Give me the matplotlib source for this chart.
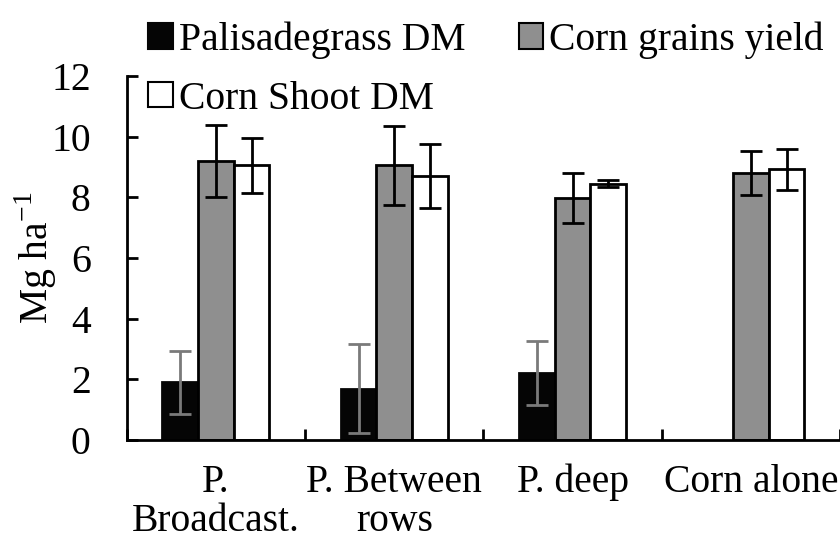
import matplotlib
matplotlib.use("Agg")
import matplotlib.pyplot as plt
import numpy as np

plt.rcParams['font.family'] = ['Liberation Serif', 'DejaVu Serif']
plt.rcParams['mathtext.fontset'] = 'custom'
plt.rcParams['mathtext.rm'] = 'Liberation Serif'

# data
categories = ["P.\nBroadcast.", "P. Between\nrows", "P. deep", "Corn alone"]
palisade = [1.9, 1.7, 2.2, 0.0]
palisade_err = [1.03, 1.47, 1.05, 0.0]
grains = [9.2, 9.05, 7.98, 8.8]
grains_err = [1.19, 1.3, 0.82, 0.74]
shoot = [9.05, 8.7, 8.45, 8.92]
shoot_err = [0.9, 1.04, 0.12, 0.68]

fs = 28.5

fig = plt.figure(figsize=(8.4, 5.42), dpi=100)
ax = fig.add_axes([0.151, 0.188, 0.849, 0.672])

x = np.arange(len(categories))
w = 0.2

# palisadegrass bars, skip the zero one (no bar drawn for corn alone)
pal_idx = [i for i in range(len(palisade)) if palisade[i] > 0]
b1 = ax.bar(x[pal_idx] - w, [palisade[i] for i in pal_idx], w, color='#050505',
            edgecolor='#050505', linewidth=2)
ax.errorbar(x[pal_idx] - w, [palisade[i] for i in pal_idx],
            yerr=[palisade_err[i] for i in pal_idx], fmt='none',
            ecolor='#7a7a7a', elinewidth=2, capsize=8, capthick=2)

b2 = ax.bar(x, grains, w, color='#8f8f8f', edgecolor='black', linewidth=2)
ax.errorbar(x, grains, yerr=grains_err, fmt='none', ecolor='black',
            elinewidth=2, capsize=8, capthick=2)

b3 = ax.bar(x + w, shoot, w, color='white', edgecolor='black', linewidth=2)
ax.errorbar(x + w, shoot, yerr=shoot_err, fmt='none', ecolor='black',
            elinewidth=2, capsize=8, capthick=2)

ax.set_xlim(-0.5, 3.5)
ax.set_ylim(0, 12)
ax.set_yticks(range(0, 13, 2))
ax.set_xticks(x)
ax.set_xticklabels(categories, fontsize=fs, linespacing=1.08,
                   fontfamily='Liberation Serif')
ax.set_xticks(np.arange(-0.5, 4.0, 1.0), minor=True)
ax.tick_params(axis='x', which='major', length=0, pad=17)
ax.tick_params(axis='x', which='minor', direction='in', length=8, width=2)
ax.tick_params(axis='y', direction='in', length=8, width=2, labelsize=fs, pad=26)

for s in ['top', 'right']:
    ax.spines[s].set_visible(False)
ax.spines['left'].set_linewidth(2)
ax.spines['bottom'].set_linewidth(2)

ax.set_ylabel('Mg ha$^{\\mathregular{-1}}$', fontsize=fs, labelpad=-6)

leg = fig.legend([b1, b3, b2], ["Palisadegrass DM", "Corn Shoot DM", "Corn grains yield"],
                 ncol=2, loc='upper left', bbox_to_anchor=(0.172, 0.968),
                 frameon=False, prop={'family': 'Liberation Serif', 'size': fs},
                 handlelength=0.62, handleheight=0.62,
                 handletextpad=0.15, columnspacing=1.35, labelspacing=0.55,
                 borderaxespad=0, borderpad=0.1)
for h in leg.legend_handles:
    h.set_linewidth(1.5)

fig.savefig("out.png", dpi=100)
